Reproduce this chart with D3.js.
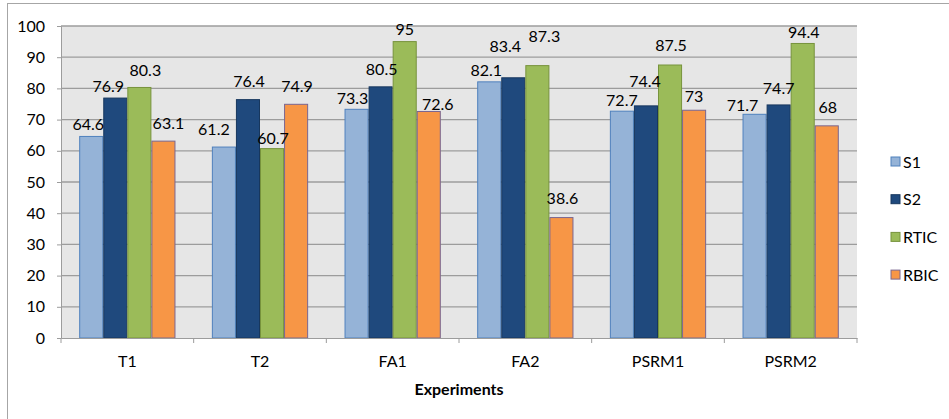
<!DOCTYPE html>
<html>
<head>
<meta charset="utf-8">
<script src="https://cdn.jsdelivr.net/npm/d3@7"></script>
<style>
  body { margin: 0; background: #fff; }
  text { font-family: Lato, "Open Sans", sans-serif; fill: #000; }
</style>
</head>
<body>
<div id="chart"></div>
<script>
// categories and series
var experiments = ["T1", "T2", "FA1", "FA2", "PSRM1", "PSRM2"];
var seriesNames = ["S1", "S2", "RTIC", "RBIC"];
var s1 = [64.6, 61.2, 73.3, 82.1, 72.7, 71.7];
var s2 = [76.9, 76.4, 80.5, 83.4, 74.4, 74.7];
var rtic = [80.3, 60.7, 95, 87.3, 87.5, 94.4];
var rbic = [63.1, 74.9, 72.6, 38.6, 73, 68];
var yTicks = [0, 10, 20, 30, 40, 50, 60, 70, 80, 90, 100];

// label nudges (px) copied from how the labels sit in the original
var labelDx = [[-3, -10, -4, -3, 0, -12], [-7, 1, 1, -8, -1, 0], [6, 1, 0, 7, 1, 1], [5, 1, 9, 1, 0, 1]];
var labelDy = [[-12, -18, -11, -11, -11, -9], [-12, -18, -17, -31, -24, -17], [-17, -10, -12, -29, -20, -11], [-18, -18, -7, -19, -14, -18]];

var seriesValues = [s1, s2, rtic, rbic];
var fills = ["#95b3d7", "#1f497d", "#9bbb59", "#f79646"];
var strokes = ["#4f81bd", "#17375e", "#77933c", "#7a6690"];

var margin = { top: 26, right: 92, bottom: 81, left: 61 },
  width = 949 - margin.left - margin.right,
  height = 419 - margin.top - margin.bottom;

var svg = d3.select("#chart")
  .append("svg")
  .attr("width", 949)
  .attr("height", 419);

// outer frame
svg.append("rect")
  .attr("x", 7.5).attr("y", 3.5)
  .attr("width", 960).attr("height", 430)
  .attr("fill", "none")
  .attr("stroke", "#a6a6a6");

var g = svg.append("g")
  .attr("transform", "translate(" + margin.left + "," + margin.top + ")");

var x0 = d3.scaleBand().domain(experiments).range([0, width]);
var x1 = d3.scaleBand().domain(seriesNames).range([18.2, x0.bandwidth() - 18.2]);
var y = d3.scaleLinear().domain([0, 100]).range([height, 0]);

// plot background
g.append("rect")
  .attr("width", width).attr("height", height)
  .attr("fill", "#e6e6e6");

// gridlines
g.selectAll(".grid")
  .data(yTicks.slice(1))
  .enter().append("line")
  .attr("x1", 0).attr("x2", width)
  .attr("y1", function(d) { return y(d); })
  .attr("y2", function(d) { return y(d); })
  .attr("stroke", "#9c9c9c")
  .attr("stroke-width", 1.3);

// y axis
var yAxis = g.append("g")
  .call(d3.axisLeft(y).tickValues(yTicks).tickSize(4).tickPadding(12));
yAxis.select(".domain").attr("stroke", "#9c9c9c");
yAxis.selectAll(".tick line").attr("stroke", "#9c9c9c");
yAxis.selectAll("text").style("font-size", "16px").attr("fill", "#000");

// bars
var groups = g.selectAll(".grp")
  .data(experiments)
  .enter().append("g")
  .attr("transform", function(d) { return "translate(" + x0(d) + ",0)"; });

function rows(d, i) {
  return seriesNames.map(function(s, j) { return { key: s, j: j, i: i, value: seriesValues[j][i] }; });
}

groups.selectAll("rect")
  .data(rows)
  .enter().append("rect")
  .attr("x", function(d) { return x1(d.key) + 0.5; })
  .attr("width", x1.bandwidth() - 1)
  .attr("y", function(d) { return y(d.value); })
  .attr("height", function(d) { return height - y(d.value); })
  .attr("fill", function(d) { return fills[d.j]; })
  .attr("stroke", function(d) { return strokes[d.j]; })
  .attr("stroke-width", 1);

groups.selectAll(".lbl")
  .data(rows)
  .enter().append("text")
  .attr("class", "lbl")
  .attr("x", function(d) { return x1(d.key) + x1.bandwidth() / 2 + labelDx[d.j][d.i]; })
  .attr("y", function(d) { return y(d.value) + labelDy[d.j][d.i]; })
  .attr("dy", "0.35em")
  .attr("text-anchor", "middle")
  .style("font-size", "16px")
  .text(function(d) { return d.value; });

// x axis
var xAxis = g.append("g")
  .attr("transform", "translate(0," + height + ")")
  .call(d3.axisBottom(x0).tickSize(0).tickPadding(18));
xAxis.select(".domain").attr("stroke", "#9c9c9c");
xAxis.selectAll("text").style("font-size", "16px").attr("fill", "#000");

// category boundary ticks
g.selectAll(".xtick")
  .data(d3.range(experiments.length + 1))
  .enter().append("line")
  .attr("x1", function(d) { return d * x0.step(); })
  .attr("x2", function(d) { return d * x0.step(); })
  .attr("y1", height).attr("y2", height + 5)
  .attr("stroke", "#9c9c9c");

// axis title
g.append("text")
  .attr("x", width / 2)
  .attr("y", height + 57)
  .attr("text-anchor", "middle")
  .style("font-size", "16px")
  .style("font-weight", "bold")
  .text("Experiments");

// legend
var legend = svg.append("g")
  .attr("transform", "translate(891,157)");

var item = legend.selectAll(".item")
  .data(seriesNames)
  .enter().append("g")
  .attr("transform", function(d, i) { return "translate(0," + i * 37.7 + ")"; });

item.append("rect")
  .attr("width", 9).attr("height", 9)
  .attr("fill", function(d, i) { return fills[i]; })
  .attr("stroke", function(d, i) { return strokes[i]; });

item.append("text")
  .attr("x", 12)
  .attr("y", 5)
  .attr("dy", "0.35em")
  .style("font-size", "16px")
  .text(function(d) { return d; });
</script>
</body>
</html>
